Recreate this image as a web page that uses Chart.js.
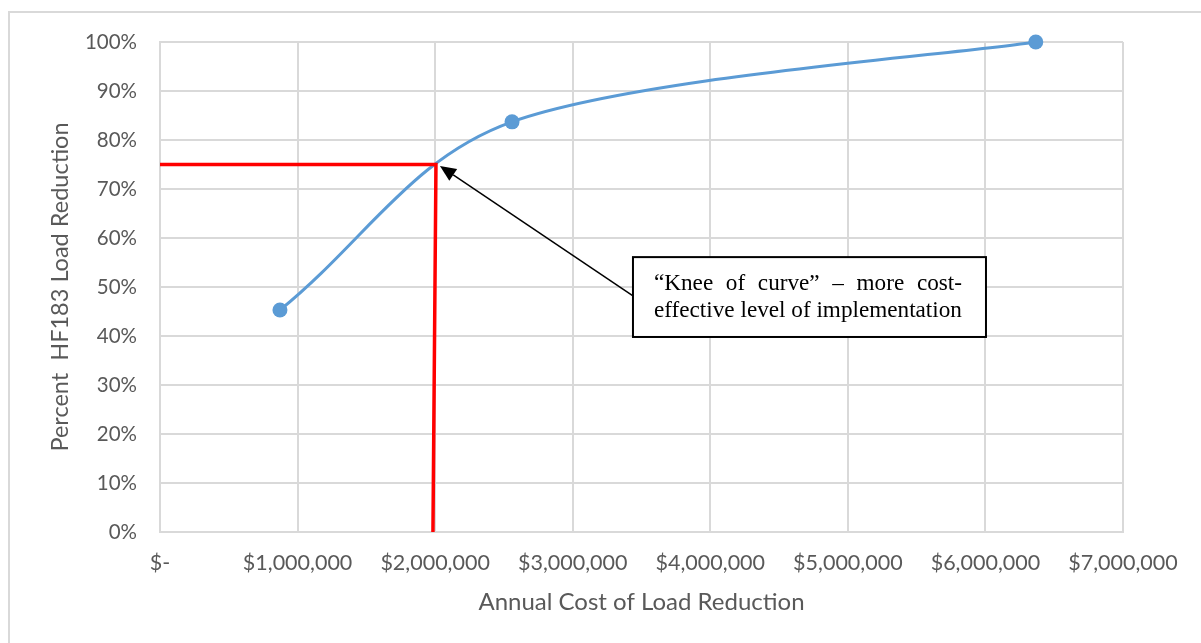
<!DOCTYPE html>
<html>
<head>
<meta charset="utf-8">
<script src="https://cdn.jsdelivr.net/npm/chart.js@4.4.1/dist/chart.umd.min.js"></script>
<style>
  html, body { margin: 0; padding: 0; background: #fff; }
  #wrap { width: 1201px; height: 643px; position: relative; }
</style>
</head>
<body>
<div id="wrap"><canvas id="c" width="1201" height="643"></canvas></div>
<script>
// ---- data ----
const costs = [872000, 2559000, 6366000];          // annual cost ($)
const loadReduction = [45.3, 83.7, 100];            // percent HF183 load reduction
const kneeCost = [0, 2006000, 1984000];              // red marker line x values
const kneeValue = [75, 75, 0];                       // red marker line y values
const xTickMin = 0, xTickMax = 7000000, xStep = 1000000;
const yTickMin = 0, yTickMax = 100, yStep = 10;
const xTitle = 'Annual Cost of Load Reduction';
const yTitle = 'Percent  HF183 Load Reduction';
const noteLine1 = ['\u201CKnee', 'of', 'curve\u201D', '\u2013', 'more', 'cost-'];
const noteLine2 = 'effective level of implementation';
// annotation placement in data units
const noteBox = { x0: 3438000, x1: 6004000, y0: 39.8, y1: 56.1 };
const arrowTail = { x: 3438000, y: 48.2 };
const arrowTip = { x: 2035000, y: 74.7 };

const gray = '#595959';
const gridColor = '#d9d9d9';

// Excel-like smoothing on the upper segment (spreadsheet "smoothed line")
const smoothPlugin = {
  id: 'smooth',
  beforeDatasetDraw(chart, args) {
    if (args.index !== 1) return;
    const line = args.meta.dataset;
    const pts = args.meta.data;
    line.updateControlPoints(chart.chartArea, 'x');
    for (let i = 1; i < pts.length; i++) {
      const prev = pts[i - 1], cur = pts[i], next = pts[i + 1];
      if (next) {
        cur.cp2x = cur.x + (next.x - prev.x) / 6;
        cur.cp2y = cur.y + (next.y - prev.y) / 6;
      } else {
        cur.cp1x = cur.x - (cur.x - prev.x) / 6;
        cur.cp1y = cur.y - (cur.y - prev.y) / 6;
      }
    }
  }
};

const annotationPlugin = {
  id: 'annot',
  beforeDraw(chart) {
    const ctx = chart.ctx;
    ctx.save();
    ctx.fillStyle = '#fff';
    ctx.fillRect(0, 0, chart.width, chart.height);
    ctx.strokeStyle = gridColor;
    ctx.lineWidth = 2;
    ctx.strokeRect(9, 12, chart.width + 20, chart.height + 20);
    ctx.restore();
  },
  afterDatasetsDraw(chart) {
    const ctx = chart.ctx;
    const xs = chart.scales.x, ys = chart.scales.y;
    const bx0 = xs.getPixelForValue(noteBox.x0), bx1 = xs.getPixelForValue(noteBox.x1);
    const by0 = ys.getPixelForValue(noteBox.y1), by1 = ys.getPixelForValue(noteBox.y0);
    const tx = xs.getPixelForValue(arrowTail.x), ty = ys.getPixelForValue(arrowTail.y);
    const hx = xs.getPixelForValue(arrowTip.x), hy = ys.getPixelForValue(arrowTip.y);
    ctx.save();
    // arrow
    const ang = Math.atan2(hy - ty, hx - tx);
    const headLen = 16, headW = 7;
    const bxh = hx - headLen * Math.cos(ang), byh = hy - headLen * Math.sin(ang);
    ctx.strokeStyle = '#000';
    ctx.lineWidth = 1.5;
    ctx.beginPath();
    ctx.moveTo(tx, ty);
    ctx.lineTo(bxh, byh);
    ctx.stroke();
    ctx.fillStyle = '#000';
    ctx.beginPath();
    ctx.moveTo(hx, hy);
    ctx.lineTo(bxh + headW * Math.sin(ang), byh - headW * Math.cos(ang));
    ctx.lineTo(bxh - headW * Math.sin(ang), byh + headW * Math.cos(ang));
    ctx.closePath();
    ctx.fill();
    // box
    ctx.fillStyle = '#fff';
    ctx.fillRect(bx0, by0, bx1 - bx0, by1 - by0);
    ctx.strokeStyle = '#000';
    ctx.lineWidth = 2;
    ctx.strokeRect(bx0, by0, bx1 - bx0, by1 - by0);
    // text
    const innerL = bx0 + 21, innerR = bx1 - 24;
    const target = innerR - innerL;
    ctx.font = '20px "Liberation Serif"';
    const w20 = ctx.measureText(noteLine2).width;
    const fs = 20 * target / w20;
    ctx.font = fs.toFixed(2) + 'px "Liberation Serif"';
    ctx.fillStyle = '#000';
    ctx.textBaseline = 'middle';
    const cy = (by0 + by1) / 2;
    const l1y = cy - 13.5, l2y = cy + 13.5;
    // justified line 1
    const widths = noteLine1.map(w => ctx.measureText(w).width);
    const tot = widths.reduce((a, b) => a + b, 0);
    const gap = (target - tot) / (noteLine1.length - 1);
    let x = innerL;
    ctx.textAlign = 'left';
    noteLine1.forEach((w, i) => { ctx.fillText(w, x, l1y); x += widths[i] + gap; });
    ctx.fillText(noteLine2, innerL, l2y);
    ctx.restore();
  }
};

new Chart(document.getElementById('c'), {
  type: 'scatter',
  data: {
    datasets: [
      {
        label: 'Knee',
        type: 'line',
        data: kneeCost.map((c, i) => ({ x: c, y: kneeValue[i] })),
        borderColor: '#ff0000',
        borderWidth: 3.5,
        pointRadius: 0,
        tension: 0,
        fill: false,
        clip: false,
        order: 0
      },
      {
        label: 'Load reduction',
        type: 'line',
        data: costs.map((c, i) => ({ x: c, y: loadReduction[i] })),
        borderColor: '#5b9bd5',
        backgroundColor: '#5b9bd5',
        borderWidth: 3,
        pointRadius: 7.5,
        pointHoverRadius: 7.5,
        pointBorderWidth: 0,
        tension: 0.37,
        fill: false,
        clip: false,
        order: 1
      }
    ]
  },
  plugins: [smoothPlugin, annotationPlugin],
  options: {
    responsive: false,
    animation: false,
    events: [],
    layout: { padding: { left: 0, top: 42, right: 78, bottom: 0 } },
    plugins: { legend: { display: false }, tooltip: { enabled: false } },
    scales: {
      x: {
        type: 'linear',
        min: xTickMin, max: xTickMax,
        afterFit(a) { a.height = 111; },
        grid: { color: gridColor, lineWidth: 2, drawTicks: false },
        border: { color: gridColor, width: 2 },
        ticks: {
          stepSize: xStep,
          padding: 18,
          color: gray,
          font: { family: 'Lato', size: 21.5 },
          maxRotation: 0,
          callback: v => v === 0 ? '$-' : '$' + v.toLocaleString('en-US')
        },
        title: {
          display: true, text: xTitle, color: gray,
          font: { family: 'Lato', size: 24 },
          padding: { top: 0, bottom: 26 }
        }
      },
      y: {
        type: 'linear',
        min: yTickMin, max: yTickMax,
        afterFit(a) { a.width = 160; },
        grid: { color: gridColor, lineWidth: 2, drawTicks: false },
        border: { color: gridColor, width: 2 },
        ticks: {
          stepSize: yStep,
          padding: 23,
          color: gray,
          font: { family: 'Lato', size: 20.5 },
          callback: v => v + '%'
        },
        title: {
          display: true, text: yTitle, color: gray,
          font: { family: 'Lato', size: 23.5 },
          padding: { top: 46, bottom: 0 }
        }
      }
    }
  }
});
</script>
</body>
</html>
